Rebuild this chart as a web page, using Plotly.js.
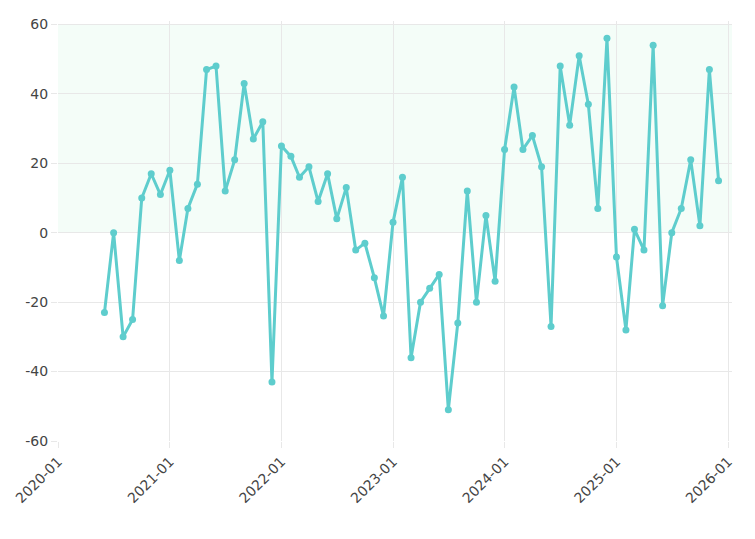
<!DOCTYPE html>
<html>
<head>
<meta charset="utf-8">
<script src="https://cdn.plot.ly/plotly-3.0.1.min.js"></script>
<style>html,body{margin:0;padding:0;background:#fff;}#chart{width:755px;height:539px;}</style>
</head>
<body>
<div id="chart"></div>
<script>
const months = [
  '2020-06','2020-07','2020-08','2020-09','2020-10','2020-11','2020-12',
  '2021-01','2021-02','2021-03','2021-04','2021-05','2021-06','2021-07','2021-08','2021-09','2021-10','2021-11','2021-12',
  '2022-01','2022-02','2022-03','2022-04','2022-05','2022-06','2022-07','2022-08','2022-09','2022-10','2022-11','2022-12',
  '2023-01','2023-02','2023-03','2023-04','2023-05','2023-06','2023-07','2023-08','2023-09','2023-10','2023-11','2023-12',
  '2024-01','2024-02','2024-03','2024-04','2024-05','2024-06','2024-07','2024-08','2024-09','2024-10','2024-11','2024-12',
  '2025-01','2025-02','2025-03','2025-04','2025-05','2025-06','2025-07','2025-08','2025-09','2025-10','2025-11','2025-12'
];
const values = [
  -23, 0, -30, -25, 10, 17, 11,
  18, -8, 7, 14, 47, 48, 12, 21, 43, 27, 32, -43,
  25, 22, 16, 19, 9, 17, 4, 13, -5, -3, -13, -24,
  3, 16, -36, -20, -16, -12, -51, -26, 12, -20, 5, -14,
  24, 42, 24, 28, 19, -27, 48, 31, 51, 37, 7, 56,
  -7, -28, 1, -5, 54, -21, 0, 7, 21, 2, 47, 15
];
const yTicks = [-60, -40, -20, 0, 20, 40, 60];
const yTickText = ['-60', '-40', '-20', '0', '20', '40', '60'];
const xTicks = ['2020-01-01','2021-01-01','2022-01-01','2023-01-01','2024-01-01','2025-01-01','2026-01-01'];
const xTickText = ['2020-01','2021-01','2022-01','2023-01','2024-01','2025-01','2026-01'];

const lineColor = '#5ecdcd';
const trace = {
  x: months.map(m => m + '-01'),
  y: values,
  type: 'scatter',
  mode: 'lines+markers',
  line: {color: lineColor, width: 3},
  marker: {color: lineColor, size: 7},
  hoverinfo: 'x+y'
};

const tickFont = {family: '"DejaVu Sans", Verdana, sans-serif', size: 14, color: '#444'};
const layout = {
  width: 755, height: 539,
  margin: {l: 58, r: 23, t: 21, b: 98},
  paper_bgcolor: '#fff', plot_bgcolor: '#fff',
  showlegend: false,
  font: {family: '"DejaVu Sans", Verdana, sans-serif', color: '#444', size: 14},
  xaxis: {
    type: 'date',
    range: ['2020-01-01', '2026-01-14'],
    tickvals: xTicks, ticktext: xTickText,
    tickangle: -45,
    showgrid: true, gridcolor: '#e8e8e8',
    ticks: 'outside', ticklen: 6, tickcolor: '#e8e8e8',
    zeroline: false, showline: false,
    tickfont: tickFont
  },
  yaxis: {
    range: [-60, 61],
    tickvals: yTicks, ticktext: yTickText,
    showgrid: true, gridcolor: '#e8e8e8',
    ticks: 'outside', ticklen: 6, tickcolor: '#e8e8e8',
    zeroline: false, showline: false,
    tickfont: tickFont
  },
  shapes: [{
    type: 'rect', xref: 'paper', x0: 0, x1: 1, yref: 'y', y0: 0, y1: 60,
    fillcolor: 'rgba(0,220,90,0.045)', line: {width: 0}, layer: 'below'
  }]
};
Plotly.newPlot('chart', [trace], layout, {displayModeBar: false, staticPlot: true});
</script>
</body>
</html>
